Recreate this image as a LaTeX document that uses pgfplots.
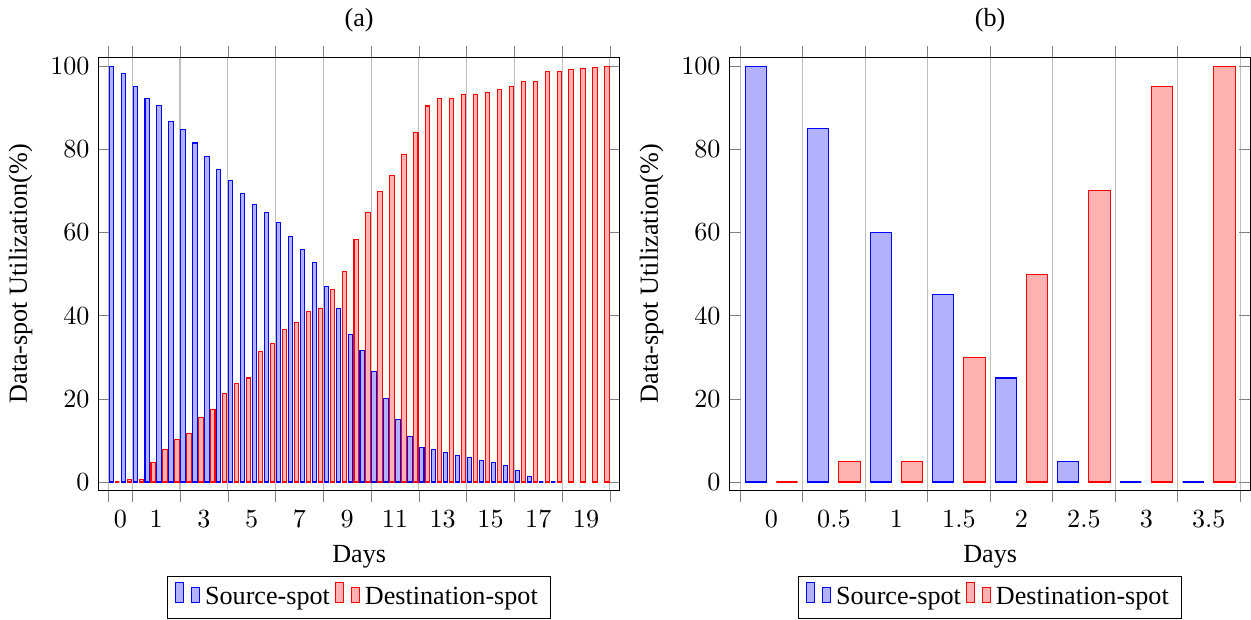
\documentclass[border=0pt]{standalone}
\usepackage{fontspec}
\setmainfont{Liberation Serif}
\usepackage{pgfplots}
\usepackage{pgfplotstable}
\pgfplotsset{compat=1.18}

\pgfplotstableread{
g src dst
0 100 0
1 98.1 0.6
2 95.0 0.6
3 92.3 4.6
4 90.5 7.7
5 86.6 10.3
6 84.7 11.6
7 81.5 15.4
8 78.3 17.4
9 75.1 21.2
10 72.5 23.7
11 69.4 25.0
12 66.7 31.4
13 64.8 33.4
14 62.3 36.6
15 59.1 38.4
16 55.8 41.1
17 52.7 41.7
18 46.9 46.2
19 41.8 50.7
20 35.5 58.3
21 31.6 64.8
22 26.5 69.9
23 20.1 73.7
24 15.0 78.8
25 11.0 84.0
26 8.4 90.4
27 7.7 92.3
28 7.1 92.3
29 6.4 93.1
30 5.8 93.1
31 5.2 93.7
32 4.6 94.3
33 3.9 95.0
34 2.7 96.2
35 1.4 96.2
36 0 98.8
37 0 98.8
38 nan 99.1
39 nan 99.4
40 nan 99.7
41 nan 100
}\tableA

\pgfplotstableread{
g src dst
0 100 0
1 85 5
2 60 5
3 45 30
4 25 50
5 5 70
6 0 95
7 0 100
}\tableB

\pgfplotsset{
  myaxis/.style={
    scale only axis,
    width=199.2pt, height=165.7pt,
    ybar,
    ymin=-2.03, ymax=102.1,
    ytick={0,20,...,100},
    xmajorgrids=true,
    xtick align=outside,
    x tick label as interval,
    xlabel={Days},
    ylabel={Data-spot Utilization(\%)},
    legend style={at={(0.5,-0.197)}, anchor=north, legend columns=-1},
  },
}

\begin{document}
\begin{tikzpicture}
\begin{axis}[myaxis,
  title={(a)},
  bar width=0.36,
  xmin=-1.3, xmax=42.3,
  xtick={-0.5,1.5,5.5,9.5,13.5,17.5,21.5,25.5,29.5,33.5,37.5,41.5},
  xticklabels={$0$,$1$,$3$,$5$,$7$,$9$,$11$,$13$,$15$,$17$,$19$},
]
\addplot[draw=blue, fill=blue!30, bar shift=0pt] table[x expr=\thisrow{g}-0.25, y=src] {\tableA};
\addplot[draw=red, fill=red!30, bar shift=0pt] table[x expr=\thisrow{g}+0.25, y=dst] {\tableA};
\legend{Source-spot, Destination-spot}
\end{axis}
\begin{axis}[myaxis, at={(241.4pt,0)},
  title={(b)},
  bar width=0.34,
  xmin=-0.666, xmax=7.666,
  xtick={-0.5,0.5,...,7.5},
  xticklabels={$0$,$0.5$,$1$,$1.5$,$2$,$2.5$,$3$,$3.5$},
]
\addplot[draw=blue, fill=blue!30, bar shift=0pt] table[x expr=\thisrow{g}-0.25, y=src] {\tableB};
\addplot[draw=red, fill=red!30, bar shift=0pt] table[x expr=\thisrow{g}+0.25, y=dst] {\tableB};
\legend{Source-spot, Destination-spot}
\end{axis}
\end{tikzpicture}
\end{document}
